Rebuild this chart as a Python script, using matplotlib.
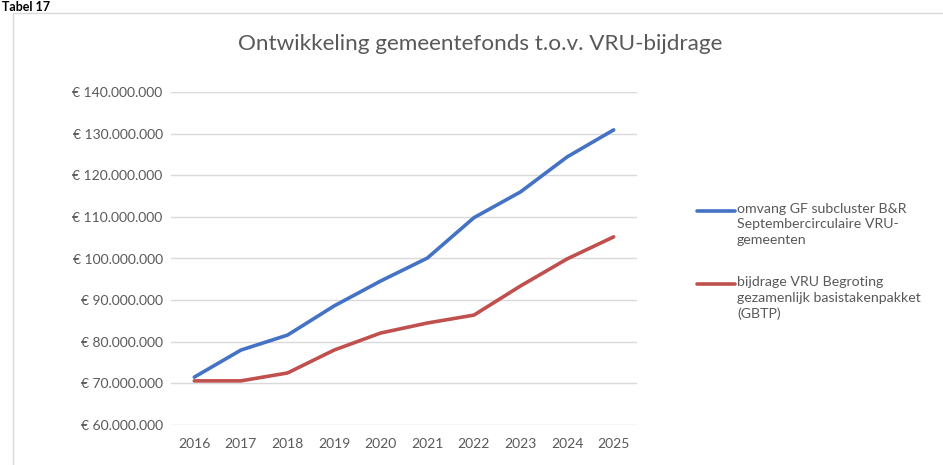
import matplotlib.pyplot as plt
from matplotlib.lines import Line2D
from matplotlib.patches import Rectangle
from matplotlib.ticker import FuncFormatter

years = ["2016", "2017", "2018", "2019", "2020", "2021", "2022", "2023", "2024", "2025"]
gemeentefonds = [71.5, 78.0, 81.6, 88.6, 94.6, 100.1, 109.8, 116.0, 124.4, 130.9]  # mln euro
vru_bijdrage = [70.6, 70.6, 72.5, 78.0, 82.1, 84.5, 86.4, 93.4, 99.9, 105.2]  # mln euro
labels = [
    "omvang GF subcluster B&R\nSeptembercirculaire VRU-\ngemeenten",
    "bijdrage VRU Begroting\ngezamenlijk basistakenpakket\n(GBTP)",
]
colors = ["#4472C4", "#C0504D"]

plt.rcParams["font.family"] = ["Lato", "DejaVu Sans"]
grey = "#595959"

fig = plt.figure(figsize=(9.43, 4.65), dpi=100)
W, H = 943, 465

# chart frame and caption
fig.patches.append(Rectangle((13 / W, -0.1), 1.0, 1 - 13 / H + 0.1, transform=fig.transFigure,
                             fill=False, edgecolor="#d9d9d9", linewidth=1.0))
fig.text(2 / W, 1 - 1 / H, "Tabel 17", fontsize=9, fontweight="bold", ha="left", va="top")

ax = fig.add_axes([171 / W, 1 - 425 / H, (637 - 171) / W, (425 - 92) / H])
x = range(len(years))
for vals, c in zip([gemeentefonds, vru_bijdrage], colors):
    ax.plot(x, [v * 1e6 for v in vals], color=c, linewidth=2.6, solid_capstyle="round")

ax.set_xlim(-0.5, len(years) - 0.5)
ax.set_ylim(60e6, 140e6)
ax.set_yticks([i * 10e6 for i in range(6, 15)])
ax.yaxis.set_major_formatter(FuncFormatter(lambda v, p: "€ " + f"{v:,.0f}".replace(",", ".")))
ax.set_xticks(list(x))
ax.set_xticklabels(years)
ax.tick_params(length=0, labelsize=10, colors=grey, pad=9)
ax.tick_params(axis="y", pad=6)
ax.grid(axis="y", color="#d9d9d9", linewidth=1.0)
ax.set_axisbelow(True)
for s in ax.spines.values():
    s.set_visible(False)

fig.text(480 / W, 1 - 44 / H, "Ontwikkeling gemeentefonds t.o.v. VRU-bijdrage",
         fontsize=16.2, color=grey, ha="center", va="center")

# legend, handle level with the first line of each label
for i, (lab, c) in enumerate(zip(labels, colors)):
    y0 = 1 - (211 + 73 * i) / H
    fig.add_artist(Line2D([697 / W, 735 / W], [y0, y0], transform=fig.transFigure,
                          color=c, linewidth=2.6, solid_capstyle="round"))
    fig.text(737 / W, y0 + 8 / H, lab, fontsize=10.2, color=grey, ha="left", va="top",
             linespacing=1.35)

fig.savefig("out.png", dpi=100)
